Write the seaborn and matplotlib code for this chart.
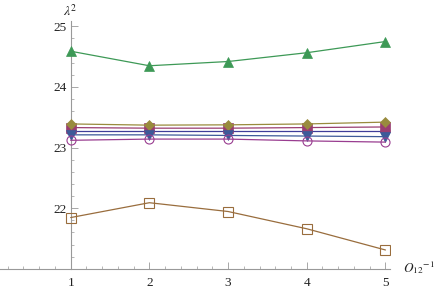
import matplotlib
matplotlib.use("Agg")
import matplotlib.pyplot as plt
import seaborn as sns
import numpy as np
import pandas as pd
from matplotlib.ticker import MultipleLocator

sns.set_theme(style="white")
plt.rcParams['font.family'] = ['Liberation Serif', 'DejaVu Serif']
plt.rcParams['mathtext.fontset'] = 'stix'

x_vals = [1, 2, 3, 4, 5]
s_circle = [23.27, 23.27, 23.27, 23.27, 23.27]
s_square = [23.33, 23.32, 23.32, 23.33, 23.34]
s_diamond = [23.39, 23.37, 23.375, 23.39, 23.42]
s_uptri = [24.59, 24.35, 24.42, 24.565, 24.75]
s_downtri = [23.21, 23.21, 23.20, 23.19, 23.18]
s_ocircle = [23.12, 23.14, 23.14, 23.11, 23.09]
s_osquare = [21.845, 22.09, 21.945, 21.66, 21.31]

series = [
    (s_circle, (0.247, 0.24, 0.6), 'o', True),
    (s_square, (0.6, 0.24, 0.443), 's', True),
    (s_diamond, (0.6, 0.547, 0.24), 'D', True),
    (s_uptri, (0.24, 0.6, 0.337), '^', True),
    (s_downtri, (0.24, 0.353, 0.6), 'v', True),
    (s_ocircle, (0.6, 0.24, 0.563), 'o', False),
    (s_osquare, (0.6, 0.427, 0.24), 's', False),
]

fig = plt.figure(figsize=(4.36, 2.89), dpi=100)
ax = fig.add_axes([0.0, 0.070, 0.894, 0.857])

for i, (vals, col, mk, filled) in enumerate(series):
    df = pd.DataFrame({'x': x_vals, 'y': vals})
    ms = 6.5 if mk != 'D' else 5.5
    if filled:
        sns.lineplot(data=df, x='x', y='y', ax=ax, color=col, linewidth=0.9,
                     marker=mk, markersize=ms, markeredgecolor=col,
                     markerfacecolor=col, markeredgewidth=0.5, zorder=3 + i)
    else:
        sns.lineplot(data=df, x='x', y='y', ax=ax, color=col, linewidth=0.9,
                     marker=mk, markersize=6.5, markeredgecolor=col,
                     markerfacecolor='none', markeredgewidth=0.8, zorder=3 + i)

ax.set_xlim(0.102, 5.055)
ax.set_ylim(21.0, 25.087)
ax.spines['left'].set_position(('data', 1))
ax.spines['right'].set_visible(False)
ax.spines['top'].set_visible(False)
for s in ['left', 'bottom']:
    ax.spines[s].set_color('#999999')
    ax.spines[s].set_linewidth(0.8)

ax.xaxis.set_major_locator(MultipleLocator(1))
ax.xaxis.set_minor_locator(MultipleLocator(0.2))
ax.yaxis.set_major_locator(MultipleLocator(1))
ax.yaxis.set_minor_locator(MultipleLocator(0.2))
ax.set_yticks([22, 23, 24, 25])
ax.set_xticks([1, 2, 3, 4, 5])
ax.tick_params(axis='both', which='major', direction='in', length=5, width=0.6,
               color='#999999', labelsize=9.5, labelcolor='#222222')
ax.tick_params(axis='both', which='minor', direction='in', length=2.5, width=0.5,
               color='#999999')
ax.tick_params(axis='x', which='both', bottom=True, pad=6)
ax.tick_params(axis='y', which='both', left=True, pad=3)
ax.set_xlabel('')
ax.set_ylabel('')
ax.grid(False)
ax.set_facecolor('white')

fig.text(70.5 / 436, 1 - 11 / 289, r'$\lambda^2$', ha='center', va='center',
         fontsize=10, color='#222222')
fig.text(403 / 436, 1 - 268 / 289, r'$O_{12}{}^{-1}$', ha='left', va='center',
         fontsize=9.5, color='#222222')

fig.savefig('out.png', dpi=100, facecolor='white')
